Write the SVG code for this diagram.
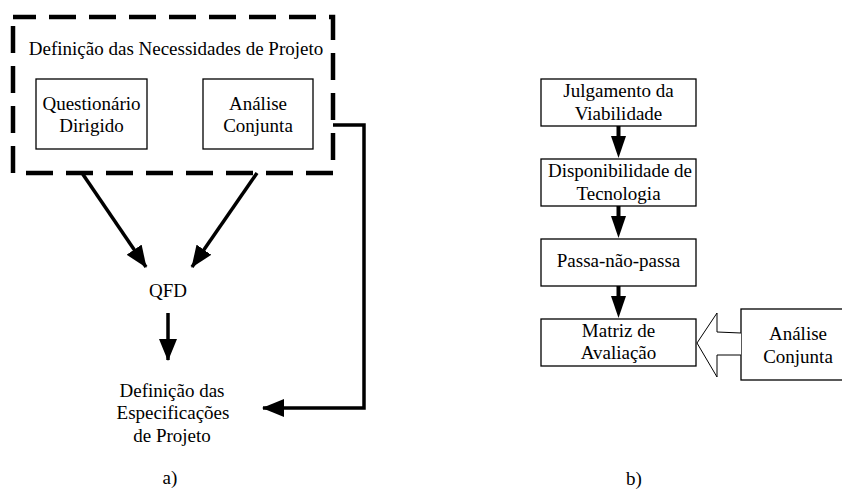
<svg xmlns="http://www.w3.org/2000/svg" width="842" height="490" viewBox="0 0 842 490">
<style>
text{font-family:'Liberation Serif','DejaVu Serif',serif;font-size:19px;fill:#000;text-anchor:middle}
.box{fill:#fff;stroke:#000;stroke-width:1.3}
.thick{fill:none;stroke:#000;stroke-width:3.5}
</style>
<defs>
<marker id="ah" markerUnits="userSpaceOnUse" markerWidth="22" markerHeight="18" refX="21" refY="9" orient="auto">
<path d="M0,0 L22,9 L0,18 Z" fill="#000"/>
</marker>
</defs>
<rect width="842" height="490" fill="#fff"/>
<g font-family="Liberation Serif, DejaVu Serif, serif">
<g id="necessidades">
<rect x="13" y="17" width="320" height="156" fill="none" stroke="#000" stroke-width="4.5" stroke-dasharray="27 13" stroke-dashoffset="4"/>
<text x="176" y="55">Definição das Necessidades de Projeto</text>
</g>
<g id="questionario">
<rect class="box" x="36" y="79" width="111" height="70"/>
<text x="91.5" y="110">Questionário</text>
<text x="91.5" y="132">Dirigido</text>
</g>
<g id="analise-a">
<rect class="box" x="203" y="79" width="110" height="70"/>
<text x="258" y="110">Análise</text>
<text x="258" y="132">Conjunta</text>
</g>
<g id="qfd"><text x="168" y="297">QFD</text></g>
<g id="especificacoes">
<text x="172" y="397">Definição das</text>
<text x="173" y="419">Especificações</text>
<text x="172" y="442">de Projeto</text>
</g>
<g id="label-a"><text x="170" y="484">a)</text></g>
<g id="julgamento">
<rect class="box" x="541" y="79" width="155" height="47"/>
<text x="618.5" y="97">Julgamento da</text>
<text x="618.5" y="120">Viabilidade</text>
</g>
<g id="disponibilidade">
<rect class="box" x="541" y="159" width="155" height="47"/>
<text x="620" y="177">Disponibilidade de</text>
<text x="618.5" y="200">Tecnologia</text>
</g>
<g id="passa">
<rect class="box" x="541" y="239" width="155" height="47"/>
<text x="618.5" y="267">Passa-não-passa</text>
</g>
<g id="matriz">
<rect class="box" x="541" y="319" width="155" height="47"/>
<text x="618.5" y="337">Matriz de</text>
<text x="618.5" y="359">Avaliação</text>
</g>
<g id="analise-b">
<rect class="box" x="741" y="309" width="103" height="71"/>
<text x="798" y="340">Análise</text>
<text x="798" y="363">Conjunta</text>
</g>
<g id="label-b"><text x="634" y="485">b)</text></g>
</g>
<g id="connectors">
<line class="thick" x1="82" y1="173" x2="146" y2="267" marker-end="url(#ah)"/>
<line class="thick" x1="257" y1="173" x2="192" y2="267" marker-end="url(#ah)"/>
<line class="thick" x1="168" y1="313" x2="168" y2="360" marker-end="url(#ah)"/>
<polyline class="thick" points="333,125 364,125 364,408 263,408" marker-end="url(#ah)"/>
<g fill="#000">
<rect x="616.5" y="126" width="4" height="11"/>
<path d="M611,136 L626,136 L618.5,158 Z"/>
<rect x="616.5" y="206" width="4" height="11"/>
<path d="M611,216 L626,216 L618.5,238 Z"/>
<rect x="616.5" y="286" width="4" height="11"/>
<path d="M611,296 L626,296 L618.5,318 Z"/>
</g>
<path d="M741,333 L717,332 L717,313 L697,343 L717,377 L717,355 L741,355" fill="#fff" stroke="#000" stroke-width="1"/>
</g>
</svg>
